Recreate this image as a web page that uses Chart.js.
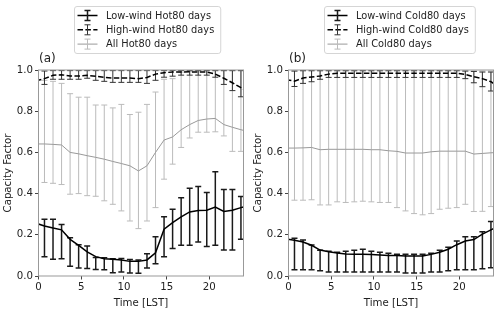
<!DOCTYPE html>
<html>
<head>
<meta charset="utf-8">
<script src="https://cdn.jsdelivr.net/npm/chart.js@4.4.1/dist/chart.umd.min.js"></script>
<style>
  html, body { margin: 0; padding: 0; background: #fff; }
  .panel { position: absolute; top: 0; width: 250px; height: 309px; }
</style>
</head>
<body>
<div class="panel" style="left:0"><canvas id="hotChart" width="250" height="309"></canvas></div>
<div class="panel" style="left:250px"><canvas id="coldChart" width="250" height="309"></canvas></div>
<script>
// hours (LST) of the composites, first and last fall just outside the axis
const hours = [-0.3, 0.7, 1.7, 2.7, 3.7, 4.7, 5.7, 6.7, 7.7, 8.7, 9.7, 10.7, 11.7,
  12.7, 13.7, 14.7, 15.7, 16.7, 17.7, 18.7, 19.7, 20.7, 21.7, 22.7, 23.7, 24.7];
const xTicks = [0, 5, 10, 15, 20];
const yTicks = [0, 0.2, 0.4, 0.6, 0.8, 1.0];

// (a) Hot80 days
const hotLow = [0.256, 0.243, 0.233, 0.224, 0.178, 0.149, 0.117, 0.094, 0.084, 0.081, 0.078, 0.071, 0.071,
  0.078, 0.113, 0.227, 0.259, 0.287, 0.311, 0.318, 0.319, 0.335, 0.313, 0.319, 0.332, 0.342];
const hotLowLo = [null, 0.094, 0.081, 0.084, 0.047, 0.039, 0.037, 0.032, 0.03, 0.016, 0.02, 0.015, 0.013,
  0.039, 0.06, 0.094, 0.133, 0.149, 0.149, 0.165, 0.143, 0.149, 0.126, 0.126, 0.178, null];
const hotLowHi = [null, 0.275, 0.275, 0.25, 0.186, 0.152, 0.146, 0.09, 0.088, 0.084, 0.085, 0.08, 0.078,
  0.108, 0.19, 0.288, 0.324, 0.38, 0.426, 0.434, 0.405, 0.506, 0.42, 0.42, 0.386, null];

const hotHigh = [0.948, 0.958, 0.974, 0.977, 0.971, 0.971, 0.974, 0.970, 0.964, 0.961, 0.961, 0.961, 0.958,
  0.964, 0.980, 0.987, 0.990, 0.990, 0.991, 0.990, 0.990, 0.980, 0.960, 0.938, 0.914, 0.884];
const hotHighLo = [null, 0.93, 0.955, 0.955, 0.955, 0.955, 0.96, 0.95, 0.945, 0.94, 0.94, 0.94, 0.94,
  0.935, 0.95, 0.965, 0.97, 0.975, 0.975, 0.975, 0.975, 0.965, 0.93, 0.90, 0.87, null];
const hotHighHi = [null, 0.995, 0.997, 0.997, 0.997, 0.997, 0.997, 0.997, 0.997, 0.997, 0.997, 0.997, 0.997,
  0.997, 0.997, 0.997, 0.998, 0.998, 0.998, 0.998, 0.998, 0.998, 0.998, 0.998, 0.998, null];

const hotAll = [0.641, 0.641, 0.639, 0.636, 0.600, 0.593, 0.584, 0.576, 0.567, 0.556, 0.546, 0.535, 0.51,
  0.535, 0.60, 0.66, 0.675, 0.71, 0.735, 0.755, 0.762, 0.765, 0.735, 0.722, 0.71, 0.70];
const hotAllLo = [null, 0.454, 0.45, 0.444, 0.397, 0.40, 0.39, 0.387, 0.365, 0.348, 0.316, 0.267, 0.23,
  0.267, 0.332, 0.47, 0.543, 0.624, 0.67, 0.698, 0.698, 0.70, 0.68, 0.605, 0.605, null];
const hotAllHi = [null, 0.95, 0.945, 0.935, 0.885, 0.868, 0.868, 0.83, 0.83, 0.816, 0.833, 0.784, 0.795,
  0.833, 0.893, 0.955, 0.958, 0.99, 0.993, 0.995, 0.995, 0.995, 0.995, 0.995, 0.995, null];

// (b) Cold80 days
const coldLow = [0.180, 0.173, 0.165, 0.149, 0.126, 0.118, 0.112, 0.107, 0.105, 0.105, 0.104, 0.102, 0.100,
  0.099, 0.097, 0.097, 0.097, 0.105, 0.115, 0.130, 0.152, 0.170, 0.177, 0.203, 0.224, 0.244];
const coldLowLo = [null, 0.03, 0.03, 0.03, 0.025, 0.02, 0.02, 0.02, 0.02, 0.02, 0.02, 0.02, 0.02,
  0.02, 0.015, 0.015, 0.015, 0.02, 0.02, 0.025, 0.03, 0.03, 0.03, 0.035, 0.04, null];
const coldLowHi = [null, 0.183, 0.175, 0.15, 0.125, 0.12, 0.115, 0.12, 0.125, 0.13, 0.12, 0.115, 0.11,
  0.105, 0.105, 0.105, 0.105, 0.11, 0.125, 0.14, 0.17, 0.19, 0.19, 0.215, 0.265, null];

const coldHigh = [0.953, 0.946, 0.961, 0.966, 0.971, 0.980, 0.984, 0.984, 0.984, 0.984, 0.984, 0.984, 0.984,
  0.984, 0.984, 0.984, 0.984, 0.984, 0.984, 0.984, 0.984, 0.979, 0.967, 0.958, 0.943, 0.916];
const coldHighLo = [null, 0.92, 0.935, 0.943, 0.955, 0.964, 0.964, 0.964, 0.964, 0.964, 0.964, 0.964, 0.964,
  0.964, 0.964, 0.964, 0.964, 0.964, 0.964, 0.964, 0.964, 0.958, 0.938, 0.919, 0.898, null];
const coldHighHi = [null, 0.995, 0.997, 0.997, 0.997, 0.997, 0.997, 0.997, 0.997, 0.997, 0.997, 0.997, 0.997,
  0.997, 0.997, 0.997, 0.997, 0.997, 0.997, 0.997, 0.997, 0.995, 0.993, 0.99, 0.99, null];

const coldAll = [0.621, 0.621, 0.622, 0.624, 0.613, 0.615, 0.615, 0.615, 0.615, 0.615, 0.613, 0.613, 0.608,
  0.605, 0.597, 0.597, 0.597, 0.603, 0.606, 0.606, 0.606, 0.606, 0.592, 0.595, 0.598, 0.60];
const coldAllLo = [null, 0.368, 0.368, 0.37, 0.345, 0.345, 0.36, 0.357, 0.36, 0.363, 0.36, 0.357, 0.357,
  0.332, 0.316, 0.303, 0.297, 0.303, 0.324, 0.329, 0.332, 0.348, 0.313, 0.314, 0.337, null];
const coldAllHi = [null, 0.995, 0.995, 0.995, 0.995, 0.995, 0.995, 0.995, 0.995, 0.995, 0.995, 0.995, 0.995,
  0.995, 0.995, 0.995, 0.995, 0.995, 0.995, 0.995, 0.995, 0.995, 0.995, 0.995, 0.995, null];

const FONT = "'DejaVu Sans', sans-serif";
const CAP = 3;

// error bars drawn under each line, clipped to the axes
const errorBars = {
  id: 'errorBars',
  beforeDatasetDraw(chart, args) {
    const ds = chart.data.datasets[args.index];
    if (!ds.errLo) return;
    const ctx = chart.ctx, xs = chart.scales.x, ys = chart.scales.y, a = chart.chartArea;
    ctx.save();
    ctx.beginPath();
    ctx.rect(a.left, a.top, a.right - a.left, a.bottom - a.top);
    ctx.clip();
    ctx.strokeStyle = ds.errColor;
    ctx.lineWidth = ds.errWidth;
    ds.data.forEach((p, i) => {
      const lo = ds.errLo[i], hi = ds.errHi[i];
      if (lo == null) return;
      const x = xs.getPixelForValue(p.x);
      const y1 = ys.getPixelForValue(lo), y2 = ys.getPixelForValue(hi);
      ctx.beginPath();
      ctx.moveTo(x, y1); ctx.lineTo(x, y2);
      ctx.moveTo(x - CAP, y1); ctx.lineTo(x + CAP, y1);
      ctx.moveTo(x - CAP, y2); ctx.lineTo(x + CAP, y2);
      ctx.stroke();
    });
    ctx.restore();
  }
};

// axes frame, panel letter and matplotlib-like legend
const frame = {
  id: 'frame',
  afterDraw(chart, args, opts) {
    const ctx = chart.ctx, a = chart.chartArea;
    ctx.save();
    ctx.strokeStyle = '#999';
    ctx.lineWidth = 1;
    ctx.strokeRect(a.left, a.top, a.right - a.left, a.bottom - a.top);

    ctx.fillStyle = '#222';
    ctx.font = '12px ' + FONT;
    ctx.textBaseline = 'alphabetic';
    ctx.fillText(opts.label, a.left + 0.5, 61.5);

    ctx.font = '9.8px ' + FONT;
    const tx = 106;
    const w = Math.max(...opts.items.map(it => ctx.measureText(it.text).width));
    const bx = 74.5, by = 6.5, bw = tx - bx + w + 6.5, bh = 47;
    ctx.beginPath();
    ctx.roundRect(bx, by, bw, bh, 2.5);
    ctx.fillStyle = 'rgba(255,255,255,0.8)';
    ctx.fill();
    ctx.strokeStyle = '#d5d5d5';
    ctx.stroke();

    opts.items.forEach((it, i) => {
      const y = 15.5 + i * 14.3;
      ctx.strokeStyle = it.color;
      ctx.lineWidth = it.width;
      ctx.setLineDash(it.dash || []);
      ctx.beginPath(); ctx.moveTo(77.5, y); ctx.lineTo(97.5, y); ctx.stroke();
      ctx.setLineDash([]);
      ctx.strokeStyle = it.errColor;
      ctx.lineWidth = it.errWidth;
      ctx.beginPath();
      ctx.moveTo(87.5, y - 5); ctx.lineTo(87.5, y + 5);
      ctx.moveTo(87.5 - CAP, y - 5); ctx.lineTo(87.5 + CAP, y - 5);
      ctx.moveTo(87.5 - CAP, y + 5); ctx.lineTo(87.5 + CAP, y + 5);
      ctx.stroke();
      ctx.fillStyle = '#222';
      ctx.textBaseline = 'middle';
      ctx.fillText(it.text, tx, y + 0.5);
    });
    ctx.restore();
  }
};

const styles = {
  low: { color: '#000', width: 1.5, dash: [], errColor: '#1a1a1a', errWidth: 1.5 },
  high: { color: '#000', width: 1.5, dash: [5.5, 2.4], errColor: '#333', errWidth: 1 },
  all: { color: '#999', width: 1, dash: [], errColor: '#bbb', errWidth: 1 }
};

function series(vals, lo, hi, st) {
  return {
    data: hours.map((h, i) => ({ x: h, y: vals[i] })),
    errLo: lo, errHi: hi,
    errColor: st.errColor, errWidth: st.errWidth,
    borderColor: st.color, borderWidth: st.width, borderDash: st.dash,
    pointRadius: 0, tension: 0, clip: 0
  };
}

function makeChart(id, label, name, low, lowLo, lowHi, high, highLo, highHi, all, allLo, allHi) {
  new Chart(id, {
    type: 'line',
    data: {
      datasets: [
        series(low, lowLo, lowHi, styles.low),
        series(high, highLo, highHi, styles.high),
        series(all, allLo, allHi, styles.all)
      ]
    },
    options: {
      responsive: false,
      animation: false,
      events: [],
      layout: { padding: { top: 70, right: 6.5, left: 0, bottom: 0 } },
      plugins: {
        legend: { display: false },
        tooltip: { enabled: false },
        frame: {
          label: label,
          items: [
            Object.assign({ text: 'Low-wind ' + name + ' days' }, styles.low),
            Object.assign({ text: 'High-wind ' + name + ' days' }, styles.high),
            Object.assign({ text: 'All ' + name + ' days' }, styles.all)
          ]
        }
      },
      scales: {
        x: {
          type: 'linear', min: 0, max: 24,
          afterBuildTicks: s => { s.ticks = xTicks.map(v => ({ value: v })); },
          afterFit: s => { s.height = 33; },
          grid: { drawOnChartArea: false, tickLength: 3.5, color: '#444' },
          border: { display: false },
          ticks: { color: '#222', padding: 1.5, maxRotation: 0, font: { family: FONT, size: 10.2 } },
          title: { display: true, text: 'Time [LST]', color: '#222', padding: 0, font: { family: FONT, size: 10.2 } }
        },
        y: {
          type: 'linear', min: 0, max: 1,
          afterBuildTicks: s => { s.ticks = yTicks.map(v => ({ value: v })); },
          afterFit: s => { s.width = 38.5; },
          grid: { drawOnChartArea: false, tickLength: 3.5, color: '#444' },
          border: { display: false },
          ticks: { color: '#222', padding: 2, font: { family: FONT, size: 10.2 }, callback: v => v.toFixed(1) },
          title: { display: true, text: 'Capacity Factor', color: '#222', padding: { top: 2, bottom: 0 }, font: { family: FONT, size: 10.2 } }
        }
      }
    },
    plugins: [errorBars, frame]
  });
}

makeChart('hotChart', '(a)', 'Hot80', hotLow, hotLowLo, hotLowHi, hotHigh, hotHighLo, hotHighHi, hotAll, hotAllLo, hotAllHi);
makeChart('coldChart', '(b)', 'Cold80', coldLow, coldLowLo, coldLowHi, coldHigh, coldHighLo, coldHighHi, coldAll, coldAllLo, coldAllHi);
</script>
</body>
</html>
